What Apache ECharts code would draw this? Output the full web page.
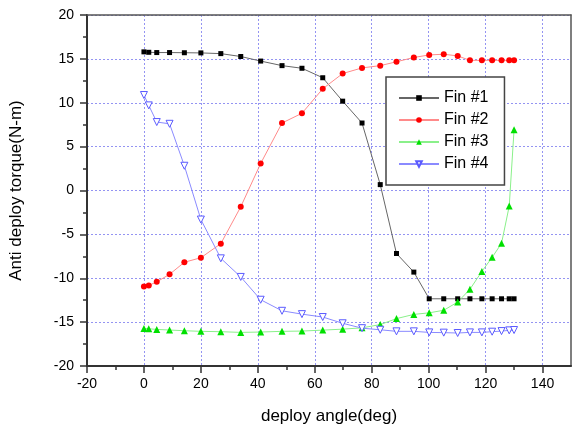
<!DOCTYPE html>
<html>
<head>
<meta charset="utf-8">
<script src="https://cdn.jsdelivr.net/npm/echarts@6/dist/echarts.min.js"></script>
<style>
    html, body { margin: 0; padding: 0; background: #fff; }
    #chart { width: 581px; height: 430px; }
</style>
</head>
<body>
<div id="chart"></div>
<script>
    // deploy angle (deg)
    var angles = [0, 1.7, 4.5, 9, 14.2, 20, 27, 34, 41, 48.5, 55.5, 62.8, 69.8, 76.6, 83, 88.7, 94.8, 100.2, 105.3, 110.2, 114.5, 118.7, 122.3, 125.6, 128.3, 130];
    // torque per fin (N-m)
    var fin1 = [15.8, 15.75, 15.72, 15.72, 15.7, 15.68, 15.6, 15.27, 14.75, 14.23, 13.93, 12.85, 10.18, 7.69, 0.67, -7.18, -9.3, -12.34, -12.34, -12.34, -12.34, -12.34, -12.34, -12.34, -12.34, -12.34];
    var fin2 = [-10.93, -10.82, -10.41, -9.55, -8.18, -7.66, -6.06, -1.86, 3.08, 7.69, 8.8, 11.59, 13.33, 13.97, 14.23, 14.67, 15.16, 15.45, 15.53, 15.34, 14.83, 14.83, 14.83, 14.83, 14.83, 14.83];
    var fin3 = [-15.72, -15.76, -15.83, -15.9, -15.98, -16.05, -16.09, -16.17, -16.13, -16.05, -16.02, -15.91, -15.8, -15.65, -15.28, -14.6, -14.12, -13.94, -13.65, -12.71, -11.26, -9.22, -7.62, -6.02, -1.78, 6.91];
    var fin4 = [10.88, 9.7, 7.8, 7.6, 2.82, -3.31, -7.73, -9.85, -12.45, -13.71, -14.09, -14.42, -15.13, -15.69, -15.87, -16.05, -16.05, -16.17, -16.2, -16.24, -16.17, -16.17, -16.09, -16.02, -15.94, -15.9];
    // tick labels
    var xTicks = [-20, 0, 20, 40, 60, 80, 100, 120, 140];

    function pairs(ys) {
        var out = [];
        for (var i = 0; i < angles.length; i++) {
            out.push([angles[i], ys[i]]);
        }
        return out;
    }

    var font = '"Liberation Sans", Arial, sans-serif';
    var chart = echarts.init(document.getElementById('chart'));

    var option = {
        animation: false,
        textStyle: { fontFamily: font, color: '#000' },
        grid: { left: 84, right: 10, top: 15, bottom: 56 },
        legend: {
            orient: 'vertical',
            left: 386,
            top: 77,
            padding: [13, 16, 13, 12],
            itemWidth: 40,
            itemHeight: 7,
            itemGap: 6,
            backgroundColor: '#fff',
            borderColor: '#444',
            borderWidth: 1.5,
            textStyle: { fontSize: 16, fontFamily: font, color: '#000' },
            data: ['Fin #1', 'Fin #2', 'Fin #3', 'Fin #4']
        },
        xAxis: [
            {
                type: 'value',
                min: -20,
                max: 150,
                interval: 20,
                position: 'bottom',
                name: 'deploy angle(deg)',
                nameLocation: 'middle',
                nameGap: 42,
                nameTextStyle: { fontSize: 17, fontFamily: font, color: '#000' },
                axisLine: { show: true, onZero: false, lineStyle: { color: '#333', width: 2 } },
                axisTick: { show: true, length: 7, customValues: xTicks, lineStyle: { color: '#333', width: 1.5 } },
                minorTick: { show: true, splitNumber: 2, length: 4, lineStyle: { color: '#333', width: 1.5 } },
                axisLabel: { fontSize: 14, color: '#000', margin: 11, customValues: xTicks },
                splitLine: { show: true, lineStyle: { color: '#9494f2', width: 1, type: [2, 2] } }
            },
            {
                // top frame
                type: 'value',
                min: -20,
                max: 150,
                position: 'top',
                axisLine: { show: true, onZero: false, lineStyle: { color: '#555', width: 1.5 } },
                axisTick: { show: false },
                axisLabel: { show: false },
                splitLine: { show: false }
            }
        ],
        yAxis: [
            {
                type: 'value',
                min: -20,
                max: 20,
                interval: 5,
                position: 'left',
                name: 'Anti deploy torque(N-m)',
                nameLocation: 'middle',
                nameGap: 62,
                nameTextStyle: { fontSize: 17, fontFamily: font, color: '#000' },
                axisLine: { show: true, onZero: false, lineStyle: { color: '#333', width: 2 } },
                axisTick: { show: true, length: 7, lineStyle: { color: '#333', width: 1.5 } },
                minorTick: { show: true, splitNumber: 2, length: 4, lineStyle: { color: '#333', width: 1.5 } },
                axisLabel: { fontSize: 14, color: '#000', margin: 13 },
                splitLine: { show: true, lineStyle: { color: '#9494f2', width: 1, type: [2, 2] } }
            },
            {
                // right frame
                type: 'value',
                min: -20,
                max: 20,
                position: 'right',
                axisLine: { show: true, onZero: false, lineStyle: { color: '#555', width: 1.5 } },
                axisTick: { show: false },
                axisLabel: { show: false },
                splitLine: { show: false }
            }
        ],
        series: [
            {
                name: 'Fin #1',
                type: 'line',
                xAxisIndex: 0,
                yAxisIndex: 0,
                data: pairs(fin1),
                symbol: 'rect',
                symbolSize: 5,
                lineStyle: { color: '#666', width: 1 },
                itemStyle: { color: '#000' }
            },
            {
                name: 'Fin #2',
                type: 'line',
                xAxisIndex: 0,
                yAxisIndex: 0,
                data: pairs(fin2),
                symbol: 'circle',
                symbolSize: 6,
                lineStyle: { color: '#ff8a8a', width: 1 },
                itemStyle: { color: '#ff0000' }
            },
            {
                name: 'Fin #3',
                type: 'line',
                xAxisIndex: 0,
                yAxisIndex: 0,
                data: pairs(fin3),
                symbol: 'triangle',
                symbolSize: 7,
                lineStyle: { color: '#8af08a', width: 1 },
                itemStyle: { color: '#00e000' }
            },
            {
                name: 'Fin #4',
                type: 'line',
                xAxisIndex: 0,
                yAxisIndex: 0,
                data: pairs(fin4),
                symbol: 'triangle',
                symbolRotate: 180,
                symbolSize: 7,
                lineStyle: { color: '#8a8aff', width: 1 },
                itemStyle: { color: '#fff', borderColor: '#5a5aff', borderWidth: 1 }
            }
        ]
    };
    chart.setOption(option);
</script>
</body>
</html>
